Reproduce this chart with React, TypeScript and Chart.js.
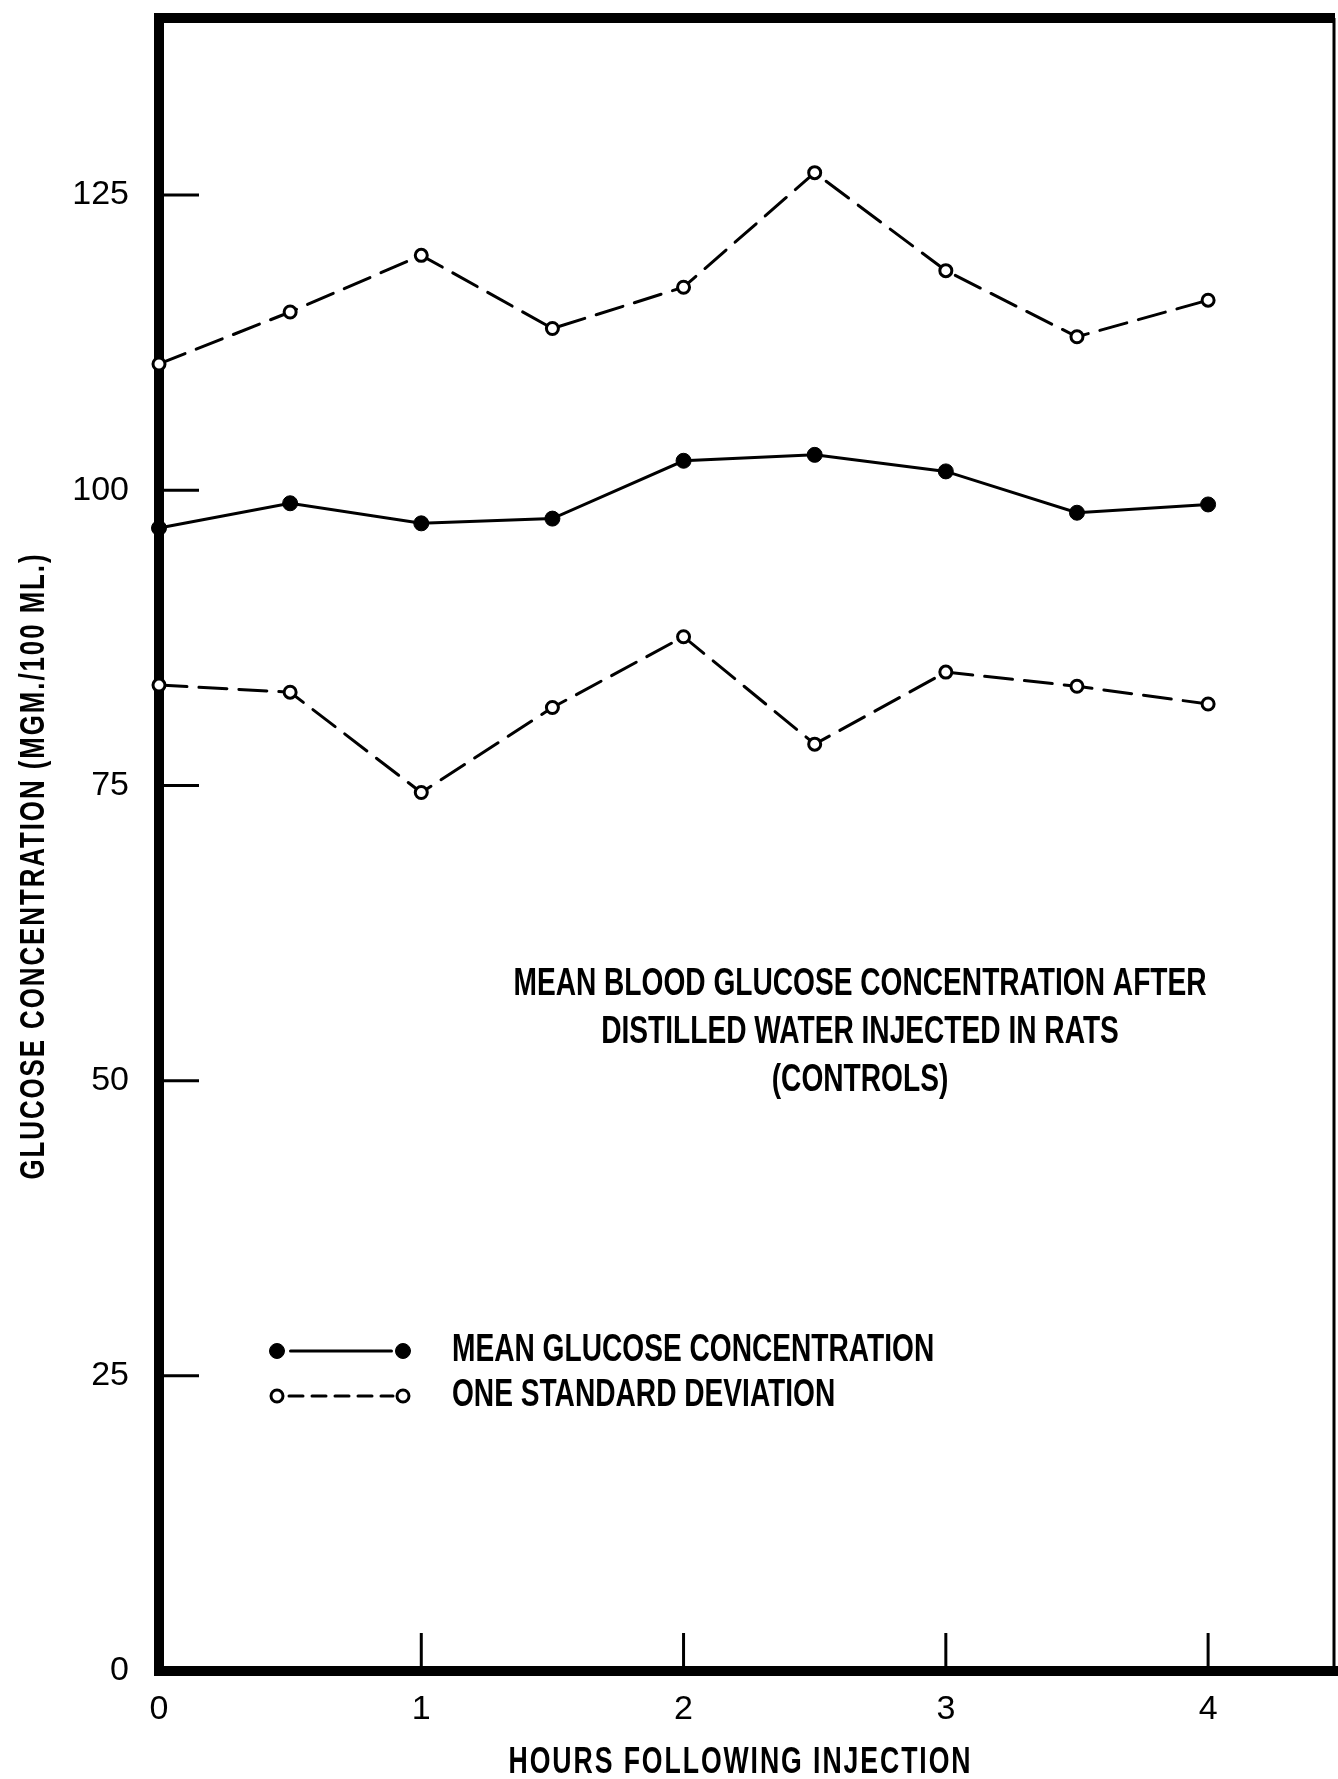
import React, { useEffect, useRef } from "react";
import { Chart, registerables } from "chart.js";

Chart.register(...registerables);

const hours = [0, 0.5, 1, 1.5, 2, 2.5, 3, 3.5, 4];
const meanGlucose = [96.8, 98.9, 97.2, 97.6, 102.5, 103.0, 101.6, 98.1, 98.8];
const upperSD = [110.7, 115.1, 119.9, 113.7, 117.2, 126.9, 118.6, 113.0, 116.1];
const lowerSD = [83.5, 82.9, 74.4, 81.6, 87.6, 78.5, 84.6, 83.4, 81.9];

const yTickValues = [25, 50, 75, 100, 125];
const yLabelValues = [0, 25, 50, 75, 100, 125];
const xTickValues = [1, 2, 3, 4];
const xLabelValues = [0, 1, 2, 3, 4];

const titleLines = [
  "MEAN BLOOD GLUCOSE CONCENTRATION AFTER",
  "DISTILLED WATER INJECTED IN RATS",
  "(CONTROLS)",
];
const legendLabels = ["MEAN GLUCOSE CONCENTRATION", "ONE STANDARD DEVIATION"];
const xTitle = "HOURS FOLLOWING INJECTION";
const yTitle = "GLUCOSE CONCENTRATION (MGM./100 ML.)";

const INK = "#000";
const COND = 0.74;

function condText(
  ctx: CanvasRenderingContext2D,
  text: string,
  x: number,
  y: number,
  size: number,
  align: CanvasTextAlign,
  rot = 0,
  spacing = 0
) {
  ctx.save();
  ctx.translate(x, y);
  if (rot) ctx.rotate(rot);
  ctx.scale(COND, 1);
  ctx.font = `bold ${size}px "Liberation Sans", Arial, sans-serif`;
  (ctx as any).letterSpacing = `${spacing}px`;
  ctx.fillStyle = INK;
  ctx.textAlign = align;
  ctx.textBaseline = "middle";
  ctx.fillText(text, 0, 0);
  ctx.restore();
}

const decorPlugin = {
  id: "decor",
  beforeDatasetsDraw(chart: any) {
    const { ctx, chartArea } = chart;
    const xs = chart.scales.x;
    const ys = chart.scales.y;
    ctx.save();
    ctx.strokeStyle = INK;
    ctx.lineCap = "butt";
    // top frame
    ctx.lineWidth = 10;
    ctx.beginPath();
    ctx.moveTo(chartArea.left - 5, chartArea.top);
    ctx.lineTo(chartArea.right + 1, chartArea.top);
    ctx.stroke();
    // bottom axis running out to the edge
    ctx.beginPath();
    ctx.moveTo(chartArea.right - 2, chartArea.bottom);
    ctx.lineTo(chart.width, chartArea.bottom);
    ctx.stroke();
    // right frame
    ctx.lineWidth = 3;
    ctx.beginPath();
    ctx.moveTo(chartArea.right, chartArea.top);
    ctx.lineTo(chartArea.right, chartArea.bottom);
    ctx.stroke();
    // inward y ticks
    yTickValues.forEach((v) => {
      const py = ys.getPixelForValue(v);
      ctx.beginPath();
      ctx.moveTo(chartArea.left, py);
      ctx.lineTo(chartArea.left + 40, py);
      ctx.stroke();
    });
    // upward x ticks
    xTickValues.forEach((v) => {
      const px = xs.getPixelForValue(v);
      ctx.beginPath();
      ctx.moveTo(px, chartArea.bottom);
      ctx.lineTo(px, chartArea.bottom - 38);
      ctx.stroke();
    });
    ctx.restore();
  },
  afterDraw(chart: any) {
    const { ctx, chartArea } = chart;
    const cx = 860;
    titleLines.forEach((t, i) => condText(ctx, t, cx, 985 + i * 48, 38, "center"));
    condText(ctx, xTitle, (chartArea.left + chartArea.right) / 2 - 6, 1763, 36, "center", 0, 2.6);
    condText(ctx, yTitle, 34, 866, 35, "center", -Math.PI / 2, 2.6);
    const ds = chart.data.datasets;
    const rows = [
      { d: ds[0], y: 1351, label: legendLabels[0], dash: [] as number[] },
      { d: ds[1], y: 1396, label: legendLabels[1], dash: [14, 9] },
    ];
    rows.forEach((r) => {
      const x1 = 277, x2 = 403;
      ctx.save();
      ctx.strokeStyle = r.d.borderColor;
      ctx.lineWidth = r.d.borderWidth;
      ctx.lineCap = "round";
      ctx.setLineDash(r.dash);
      ctx.beginPath();
      ctx.moveTo(x1 + r.d.pointRadius + 6, r.y);
      ctx.lineTo(x2 - r.d.pointRadius - 4, r.y);
      ctx.stroke();
      ctx.setLineDash([]);
      [x1, x2].forEach((px) => {
        ctx.beginPath();
        ctx.arc(px, r.y, r.d.pointRadius, 0, Math.PI * 2);
        ctx.fillStyle = r.d.pointBackgroundColor;
        ctx.fill();
        ctx.lineWidth = r.d.pointBorderWidth;
        ctx.strokeStyle = r.d.pointBorderColor;
        ctx.stroke();
      });
      ctx.restore();
      condText(ctx, r.label, 452, r.y, 38, "left");
    });
  },
};

export default function App() {
  const ref = useRef<HTMLCanvasElement | null>(null);
  useEffect(() => {
    if (!ref.current) return;
    const toPts = (arr: number[]) => hours.map((h, i) => ({ x: h, y: arr[i] }));
    const sdStyle = {
      borderColor: INK,
      borderWidth: 3,
      borderDash: [28, 12],
      borderCapStyle: "round",
      pointRadius: 6,
      pointBackgroundColor: "#fff",
      pointBorderColor: INK,
      pointBorderWidth: 3,
      tension: 0,
      clip: false,
    };
    const chart = new Chart(ref.current, {
      type: "line",
      data: {
        datasets: [
          {
            label: legendLabels[0],
            data: toPts(meanGlucose),
            borderColor: INK,
            borderWidth: 3,
            pointRadius: 7.5,
            pointBackgroundColor: INK,
            pointBorderColor: INK,
            pointBorderWidth: 1,
            tension: 0,
            clip: false,
          } as any,
          { label: legendLabels[1], data: toPts(upperSD), ...sdStyle } as any,
          { label: "lower SD", data: toPts(lowerSD), ...sdStyle } as any,
        ],
      },
      options: {
        responsive: false,
        animation: false,
        layout: { padding: { top: 18, right: 4, left: 0, bottom: 0 }, autoPadding: false },
        plugins: { legend: { display: false }, tooltip: { enabled: false }, title: { display: false } },
        scales: {
          x: {
            type: "linear",
            min: 0,
            max: 4.48,
            afterFit: (s: any) => {
              s.height = 108;
              s.paddingLeft = 0;
              s.paddingRight = 0;
            },
            afterBuildTicks: (s: any) => {
              s.ticks = xLabelValues.map((v) => ({ value: v }));
            },
            grid: { display: true, drawOnChartArea: false, drawTicks: false, color: "transparent" },
            border: { display: true, width: 10, color: INK },
            ticks: {
              padding: 18,
              color: INK,
              font: { family: "Liberation Sans", size: 34 },
              callback: (v: any) => String(v),
            },
          },
          y: {
            type: "linear",
            min: 0,
            max: 140,
            afterFit: (s: any) => {
              s.width = 159;
              s.paddingTop = 0;
              s.paddingBottom = 0;
            },
            afterBuildTicks: (s: any) => {
              s.ticks = yLabelValues.map((v) => ({ value: v }));
            },
            grid: { display: true, drawOnChartArea: false, drawTicks: false, color: "transparent" },
            border: { display: true, width: 10, color: INK },
            ticks: {
              padding: 30,
              color: INK,
              font: { family: "Liberation Sans", size: 34 },
              callback: (v: any) => String(v),
            },
          },
        },
      },
      plugins: [decorPlugin],
    });
    return () => chart.destroy();
  }, []);
  return (
    <div style={{ position: "absolute", left: 0, top: 0, width: 1338, height: 1779, background: "#fff" }}>
      <canvas ref={ref} width={1338} height={1779} style={{ display: "block" }} />
    </div>
  );
}
